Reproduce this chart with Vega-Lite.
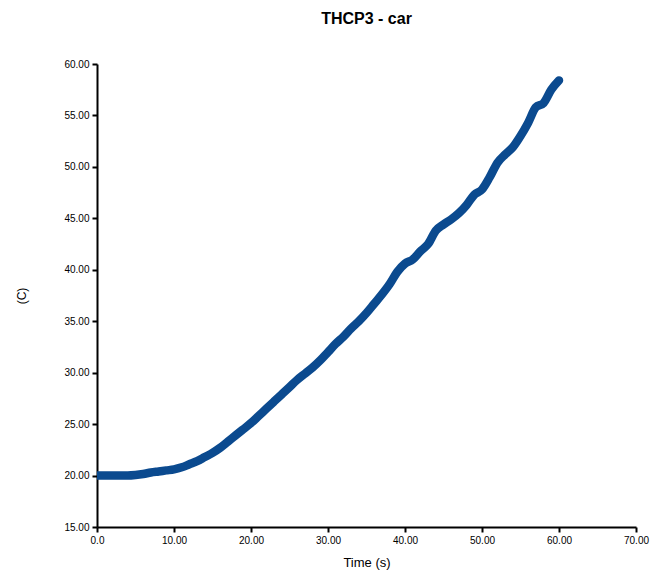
{
  "$schema": "https://vega.github.io/schema/vega-lite/v6.json",
  "autosize": "none",
  "width": 539,
  "height": 463,
  "padding": {"left": 97, "top": 64, "right": 14, "bottom": 51},
  "background": "white",
  "title": {"text": "THCP3 - car", "font": "Liberation Sans", "fontSize": 16, "fontWeight": "bold", "color": "black", "offset": 32, "anchor": "middle"},
  "config": {"view": {"stroke": null}},
  "data": {"values": [
    {"t": 0, "c": 20.0}, {"t": 1, "c": 20.0}, {"t": 2, "c": 20.0}, {"t": 3, "c": 20.0}, {"t": 4, "c": 20.0},
    {"t": 5, "c": 20.05}, {"t": 6, "c": 20.15}, {"t": 7, "c": 20.3}, {"t": 8, "c": 20.4}, {"t": 9, "c": 20.5},
    {"t": 10, "c": 20.6}, {"t": 11, "c": 20.8}, {"t": 12, "c": 21.1}, {"t": 13, "c": 21.4}, {"t": 14, "c": 21.8},
    {"t": 15, "c": 22.2}, {"t": 16, "c": 22.7}, {"t": 17, "c": 23.3}, {"t": 18, "c": 23.9}, {"t": 19, "c": 24.5},
    {"t": 20, "c": 25.1}, {"t": 21, "c": 25.8}, {"t": 22, "c": 26.5}, {"t": 23, "c": 27.2}, {"t": 24, "c": 27.9},
    {"t": 25, "c": 28.6}, {"t": 26, "c": 29.3}, {"t": 27, "c": 29.9}, {"t": 28, "c": 30.5}, {"t": 29, "c": 31.2},
    {"t": 30, "c": 32.0}, {"t": 31, "c": 32.8}, {"t": 32, "c": 33.5}, {"t": 33, "c": 34.3}, {"t": 34, "c": 35.0},
    {"t": 35, "c": 35.8}, {"t": 36, "c": 36.7}, {"t": 37, "c": 37.6}, {"t": 38, "c": 38.6}, {"t": 39, "c": 39.8},
    {"t": 40, "c": 40.6}, {"t": 41, "c": 41.0}, {"t": 42, "c": 41.8}, {"t": 43, "c": 42.5}, {"t": 44, "c": 43.8},
    {"t": 45, "c": 44.4}, {"t": 46, "c": 44.9}, {"t": 47, "c": 45.5}, {"t": 48, "c": 46.3}, {"t": 49, "c": 47.3},
    {"t": 50, "c": 47.8}, {"t": 51, "c": 49.0}, {"t": 52, "c": 50.4}, {"t": 53, "c": 51.2}, {"t": 54, "c": 51.9},
    {"t": 55, "c": 53.0}, {"t": 56, "c": 54.3}, {"t": 57, "c": 55.8}, {"t": 58, "c": 56.2}, {"t": 59, "c": 57.5},
    {"t": 60, "c": 58.4}
  ]},
  "mark": {"type": "line", "color": "#0b4a8f", "strokeWidth": 8.5, "strokeCap": "round", "strokeJoin": "round", "interpolate": "monotone", "clip": true},
  "encoding": {
    "x": {"field": "t", "type": "quantitative",
      "scale": {"domain": [0, 70], "nice": false, "zero": false},
      "axis": {"title": "Time (s)", "values": [0, 10, 20, 30, 40, 50, 60, 70],
        "labelExpr": "datum.value == 0 ? '0.0' : format(datum.value, '.2f')", "labelFlush": false,
        "grid": false, "domainColor": "black", "domainWidth": 2, "tickColor": "black", "tickWidth": 2, "tickSize": 5,
        "labelFont": "Liberation Sans", "labelFontSize": 10, "labelColor": "black", "labelPadding": 3,
        "titleFont": "Liberation Sans", "titleFontSize": 13, "titleFontWeight": "normal", "titleColor": "black", "titlePadding": 11}},
    "y": {"field": "c", "type": "quantitative",
      "scale": {"domain": [15, 60], "nice": false, "zero": false},
      "axis": {"title": "(C)", "values": [15, 20, 25, 30, 35, 40, 45, 50, 55, 60], "format": ".2f", "labelFlush": false,
        "grid": false, "domainColor": "black", "domainWidth": 2, "tickColor": "black", "tickWidth": 2, "tickSize": 5,
        "labelFont": "Liberation Sans", "labelFontSize": 10, "labelColor": "black", "labelPadding": 3,
        "titleFont": "Liberation Sans", "titleFontSize": 12, "titleFontWeight": "normal", "titleColor": "black", "titlePadding": 35}}
  }
}
